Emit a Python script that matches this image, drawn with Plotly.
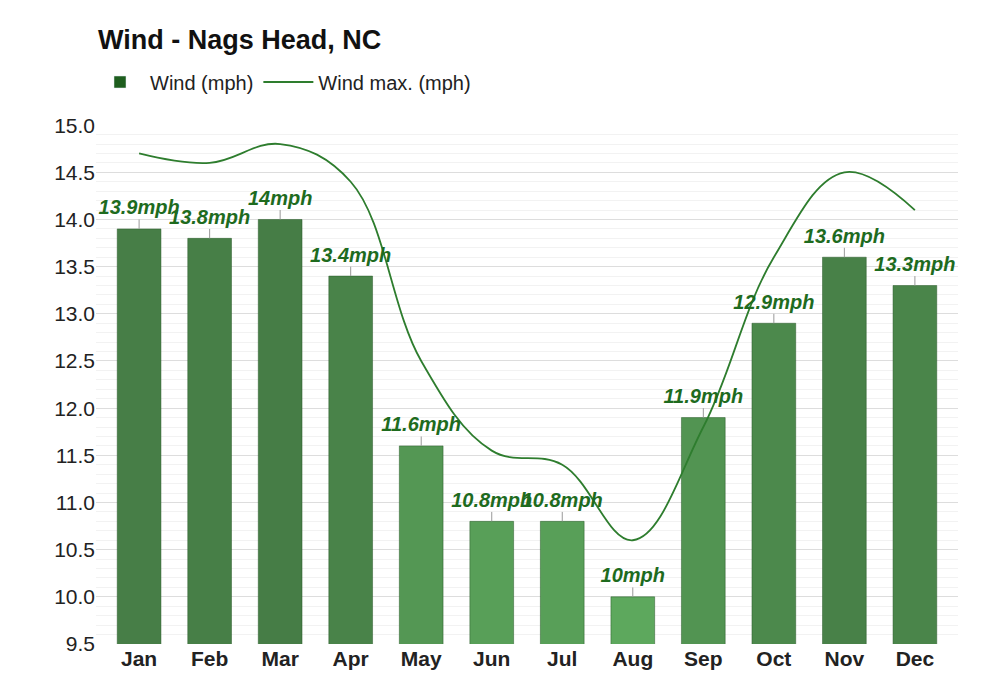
import plotly.graph_objects as go

months = ['Jan', 'Feb', 'Mar', 'Apr', 'May', 'Jun', 'Jul', 'Aug', 'Sep', 'Oct', 'Nov', 'Dec']
wind = [13.9, 13.8, 14.0, 13.4, 11.6, 10.8, 10.8, 10.0, 11.9, 12.9, 13.6, 13.3]
wind_max = [14.7, 14.6, 14.8, 14.4, 12.5, 11.55, 11.4, 10.6, 11.8, 13.6, 14.5, 14.1]
labels = ['13.9mph', '13.8mph', '14mph', '13.4mph', '11.6mph', '10.8mph', '10.8mph',
          '10mph', '11.9mph', '12.9mph', '13.6mph', '13.3mph']


def shade(v):
    # darker green for windier months
    t = max(0, min(1, (v - 10) / 4))
    a, b = (93, 168, 93), (70, 125, 70)
    return 'rgb(%d,%d,%d)' % tuple(round(a[i] + (b[i] - a[i]) * t) for i in range(3))


fig = go.Figure()
fig.add_trace(go.Bar(
    x=months, y=wind, name='Wind (mph)', width=0.62,
    marker=dict(color=[shade(v) for v in wind], line=dict(color='rgba(40,90,40,0.5)', width=1)),
    error_y=dict(type='data', array=[0.1] * 12, arrayminus=[0] * 12, color='#999', thickness=1, width=0),
    showlegend=False,
))
# legend swatch
fig.add_trace(go.Bar(x=[None], y=[None], name='Wind (mph)', marker_color='#1e5e1e'))
fig.add_trace(go.Scatter(
    x=months, y=wind_max, name='Wind max. (mph)', mode='lines',
    line=dict(color='#2e7d2e', width=1.8, shape='spline', smoothing=1.1),
))
fig.add_trace(go.Scatter(
    x=months, y=[v + 0.1 for v in wind], mode='text', text=labels, textposition='top center',
    textfont=dict(family='Arial', size=20, color='#1e6b1e', style='italic', weight='bold'),
    showlegend=False, cliponaxis=False,
))

fig.update_layout(
    width=1000, height=700, plot_bgcolor='white', paper_bgcolor='white',
    font=dict(family='Arial', color='#222'),
    title=dict(text='<b>Wind - Nags Head, NC</b>', x=0.09, xref='container', xanchor='left',
               y=1 - 32 / 700, yref='container', yanchor='middle',
               font=dict(size=27, color='#111')),
    legend=dict(orientation='h', x=0.082, xref='container', y=1 - 74 / 700, yref='container',
                xanchor='left', yanchor='middle', font=dict(size=20, color='#222'), itemwidth=50),
    margin=dict(l=88, r=50, t=98, b=64),
    barmode='overlay', bargap=0.4,
    xaxis=dict(tickfont=dict(size=21, color='#222', weight='bold'), showgrid=False),
    yaxis=dict(range=[9.5, 15.0], dtick=0.5, tickformat='.1f', gridcolor='#ddd',
               tickfont=dict(size=21, color='#222'), zeroline=False,
               minor=dict(dtick=0.1, showgrid=True, gridcolor='#f2f2f2')),
)

fig.write_html('out.html')
